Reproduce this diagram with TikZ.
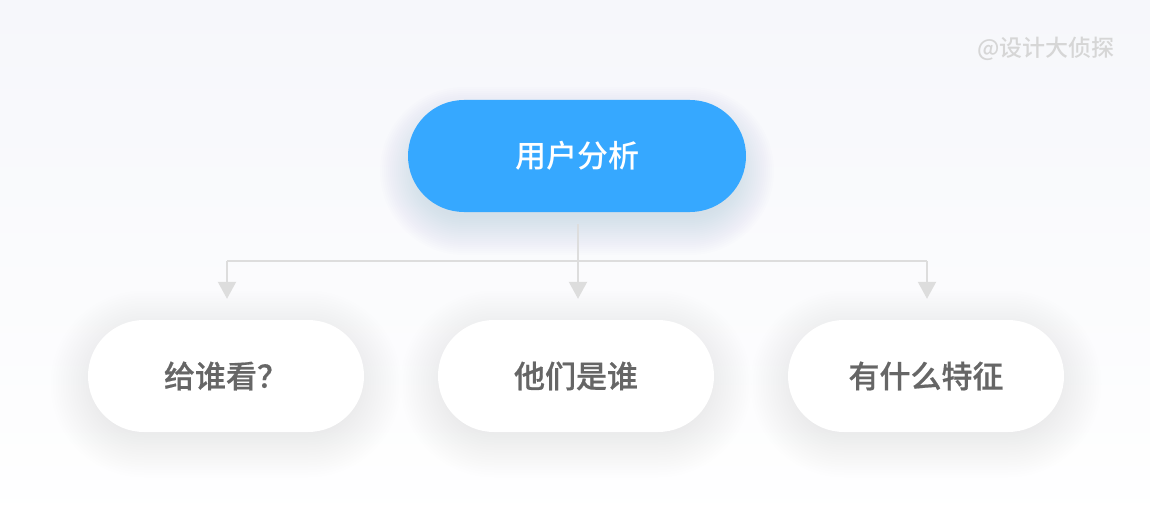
\documentclass[tikz,border=0pt]{standalone}
\usepackage{fontspec}
\setmainfont{Noto Sans CJK SC}
\newfontfamily\medfont{Noto Sans CJK SC}[UprightFont={* Medium}]
\newfontfamily\semifont{Noto Sans CJK SC}[UprightFont={* Medium}, FakeBold=0.6]
\usetikzlibrary{arrows.meta,calc}
\definecolor{bgtop}{HTML}{F6F7FB}
\definecolor{mainblue}{HTML}{36A8FF}
\definecolor{linegray}{HTML}{DDDDDD}
\definecolor{textgray}{HTML}{666666}
\definecolor{markgray}{HTML}{D6D6D6}
\definecolor{shadowblue}{RGB}{90,112,200}
\newcommand\pillshade[8]{% cx cy w h dy color opacity step
  \foreach \k in {0,...,19}{%
    \pgfmathsetmacro\hw{#3/2-10+#8*\k}%
    \pgfmathsetmacro\hh{#4/2-10+#8*\k}%
    \fill[#6, opacity=#7, rounded corners=0.999*\hh pt]
      (#1-\hw,#2+#5-\hh) rectangle (#1+\hw,#2+#5+\hh);
  }%
}
\tikzset{
  pill/.style={rectangle, rounded corners=56pt, minimum height=112pt, inner sep=0pt},
  mainpill/.style={pill, minimum width=338pt, fill=mainblue, text=white,
    font=\fontsize{31}{31}\selectfont\medfont},
  subpill/.style={pill, minimum width=276pt, fill=white, text=textgray,
    font=\fontsize{31}{31}\selectfont\semifont},
  conn/.style={draw=linegray, line width=2pt},
  tipconn/.style={conn, -{Triangle[width=18pt,length=17pt]}},
}
\begin{document}
\begin{tikzpicture}[x=1pt,y=-1pt]
\shade[top color=bgtop,bottom color=white] (0,0) rectangle (1150,532);
\useasboundingbox (0,0) rectangle (1150,532);
\pillshade{577}{156}{338}{112}{15}{shadowblue}{0.008}{2}
\pillshade{226}{376}{276}{112}{8}{black}{0.004}{2.5}
\pillshade{576}{376}{276}{112}{8}{black}{0.004}{2.5}
\pillshade{926}{376}{276}{112}{8}{black}{0.004}{2.5}
\node[font=\fontsize{23}{23}\selectfont\medfont, text=markgray] (mark) at (1046,49) {@设计大侦探};
\node[mainpill] (top) at (577,156) {用户分析};
\node[subpill] (b1) at (226,376) {给谁看？};
\node[subpill] (b2) at (576,376) {他们是谁};
\node[subpill] (b3) at (926,376) {有什么特征};
\coordinate (s) at ($(top.south)+(1,12)$);
\coordinate (t1) at ($(b1.north)+(1,-21)$);
\coordinate (t2) at ($(b2.north)+(2,-21)$);
\coordinate (t3) at ($(b3.north)+(1,-21)$);
\coordinate (hl) at (t1 |- 0,261);
\coordinate (hr) at (t3 |- 0,261);
\draw[conn] (hl) -- (hr);
\draw[tipconn] (s) -- (t2);
\draw[tipconn] (hl) -- (t1);
\draw[tipconn] (hr) -- (t3);
\end{tikzpicture}
\end{document}
